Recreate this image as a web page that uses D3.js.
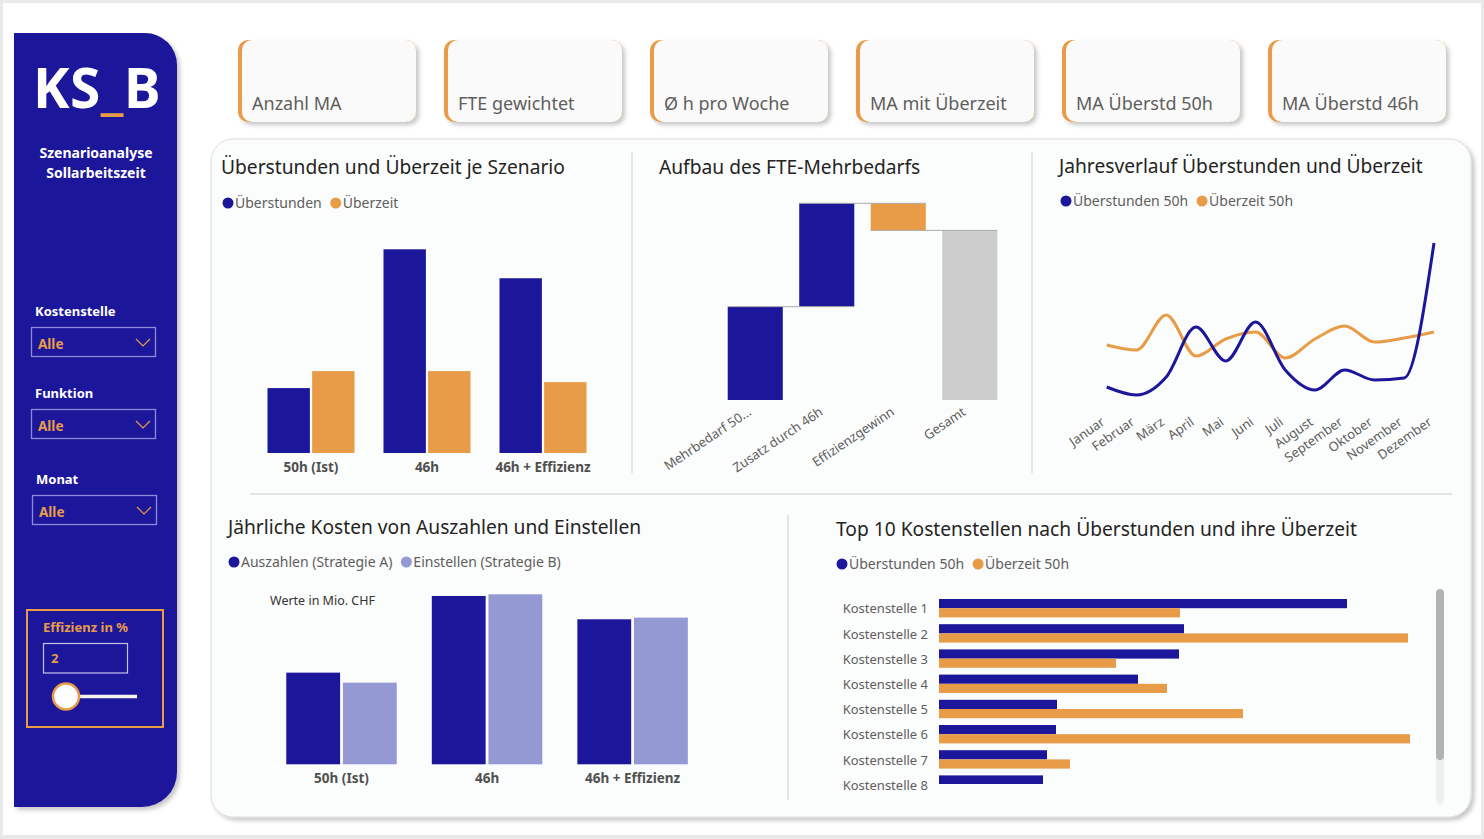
<!DOCTYPE html>
<html>
<head>
<meta charset="utf-8">
<script src="https://cdn.jsdelivr.net/npm/d3@7"></script>
<style>
  html, body { margin: 0; padding: 0; background: #fff; }
  svg { display: block; font-family: "Segoe UI", "Noto Sans", "Open Sans", sans-serif; }
</style>
</head>
<body>
<svg id="dash" width="1484" height="839"></svg>
<script>
// ---- data ----
const kpiLabels = ["Anzahl MA", "FTE gewichtet", "Ø h pro Woche", "MA mit Überzeit", "MA Überstd 50h", "MA Überstd 46h"];
const filterLabels = ["Kostenstelle", "Funktion", "Monat"];
const filterValues = ["Alle", "Alle", "Alle"];
const effizienzProzent = 2;

const szenarien = ["50h (Ist)", "46h", "46h + Effizienz"];
const ueberstundenSzenario = [65, 204, 175];
const ueberzeitSzenario = [82, 82, 71];

const wfSchritte = ["Mehrbedarf 50...", "Zusatz durch 46h", "Effizienzgewinn", "Gesamt"];
const wfWerte = [93, 103, -27];

const monate = ["Januar", "Februar", "März", "April", "Mai", "Juni", "Juli", "August", "September", "Oktober", "November", "Dezember"];
const ueberstundenMonat = [23, 15, 33, 83, 49, 88, 40, 20, 40, 30, 32, 167];
const ueberzeitMonat = [65, 60, 95, 54, 71, 78, 52, 71, 84, 68, 72, 78];

const kostenSzenario = ["50h (Ist)", "46h", "46h + Effizienz"];
const kostenAuszahlen = [5.5, 10.1, 8.7];
const kostenEinstellen = [4.9, 10.2, 8.8];

const kostenstellen = ["Kostenstelle 1", "Kostenstelle 2", "Kostenstelle 3", "Kostenstelle 4",
  "Kostenstelle 5", "Kostenstelle 6", "Kostenstelle 7", "Kostenstelle 8"];
const ueberstundenKst = [408, 245, 240, 199, 118, 117, 108, 104];
const ueberzeitKst = [241, 469, 177, 228, 304, 471, 131, 150];

// ---- style ----
const BLUE = "#1B169A";
const ORANGE = "#E89C48";
const LILA = "#9499D3";
const GREY = "#CCCCCC";
const TITLE = "#252423";
const SUB = "#605E5C";

const svg = d3.select("#dash");

const defs = svg.append("defs");
const shadow = defs.append("filter").attr("id", "shadow")
  .attr("x", "-10%").attr("y", "-10%").attr("width", "130%").attr("height", "130%");
shadow.append("feDropShadow").attr("dx", 3).attr("dy", 3).attr("stdDeviation", 2)
  .attr("flood-color", "#000").attr("flood-opacity", 0.22);
// only the rows that fit in the visual are shown (rest behind scrollbar)
defs.append("clipPath").attr("id", "kstClip")
  .append("rect").attr("x", 830).attr("y", 585).attr("width", 600).attr("height", 199);

// page
svg.append("rect").attr("width", 1484).attr("height", 839).attr("fill", "#e9e9e9");
svg.append("rect").attr("x", 3).attr("y", 3).attr("width", 1478).attr("height", 832).attr("fill", "#fff");

// ---- sidebar ----
svg.append("path")
  .attr("d", "M14,33 H145 A32,32 0 0 1 177,65 V772 A35,35 0 0 1 142,807 H14 Z")
  .attr("fill", BLUE)
  .attr("filter", "url(#shadow)");

const logo = svg.append("text").attr("x", 33).attr("y", 108)
  .attr("font-size", 55).attr("font-weight", 700).attr("fill", "#fff")
  .attr("letter-spacing", 0.5);
logo.append("tspan").text("KS");
logo.append("tspan").attr("fill", ORANGE).text("_");
logo.append("tspan").text("B");

svg.selectAll(".subtitle")
  .data(["Szenarioanalyse", "Sollarbeitszeit"])
  .join("text")
  .attr("x", 96).attr("y", (d, i) => 158 + i * 20)
  .attr("text-anchor", "middle")
  .attr("font-size", 14).attr("font-weight", 700).attr("fill", "#fff")
  .text(d => d);

const filterY = [311, 393, 479];
filterLabels.forEach((lab, i) => {
  const y = filterY[i];
  const x = i === 2 ? 32 : 31;
  svg.append("text").attr("x", x + 4).attr("y", y + 5)
    .attr("font-size", 13).attr("font-weight", 700).attr("fill", "#fff").text(lab);
  svg.append("rect").attr("x", x + 0.5).attr("y", y + 16.5).attr("width", 124).attr("height", 29)
    .attr("fill", "none").attr("stroke", "#8f8bd8").attr("stroke-width", 1.3);
  svg.append("text").attr("x", x + 7).attr("y", y + 38)
    .attr("font-size", 13.5).attr("font-weight", 700).attr("fill", ORANGE).text(filterValues[i]);
  svg.append("polyline")
    .attr("points", `${x + 105},${y + 28} ${x + 112},${y + 35} ${x + 119},${y + 28}`)
    .attr("fill", "none").attr("stroke", ORANGE).attr("stroke-width", 1.2);
});

// Effizienz slicer
svg.append("rect").attr("x", 27).attr("y", 610).attr("width", 136).attr("height", 117)
  .attr("fill", "none").attr("stroke", ORANGE).attr("stroke-width", 2);
svg.append("text").attr("x", 43).attr("y", 632)
  .attr("font-size", 13).attr("font-weight", 700).attr("fill", ORANGE).text("Effizienz in %");
svg.append("rect").attr("x", 43.5).attr("y", 643.5).attr("width", 84).attr("height", 29.5)
  .attr("fill", "none").attr("stroke", "#c4c1ee").attr("stroke-width", 1.2);
svg.append("text").attr("x", 51).attr("y", 663)
  .attr("font-size", 13).attr("font-weight", 700).attr("fill", ORANGE).text(effizienzProzent);
svg.append("line").attr("x1", 66).attr("x2", 137).attr("y1", 696.5).attr("y2", 696.5)
  .attr("stroke", "#f4f4f4").attr("stroke-width", 3.5);
svg.append("circle").attr("cx", 66).attr("cy", 696.5).attr("r", 13)
  .attr("fill", "#fff").attr("stroke", ORANGE).attr("stroke-width", 2.5);

// ---- KPI cards ----
const cards = svg.selectAll(".card")
  .data(kpiLabels)
  .join("g")
  .attr("class", "card")
  .attr("transform", (d, i) => `translate(${238 + i * 206},40)`);
cards.append("rect").attr("width", 178).attr("height", 82).attr("rx", 10)
  .attr("fill", ORANGE).attr("filter", "url(#shadow)");
cards.append("rect").attr("x", 4).attr("width", 174).attr("height", 82).attr("rx", 10)
  .attr("fill", "#fafafa");
cards.append("text").attr("x", 14).attr("y", 70)
  .attr("font-size", 18).attr("fill", SUB).text(d => d);

// ---- main panel ----
svg.append("rect").attr("x", 211).attr("y", 139).attr("width", 1260).attr("height", 678)
  .attr("rx", 22).attr("fill", "#fbfcfc").attr("stroke", "#dcdcdc")
  .attr("filter", "url(#shadow)");

const dividers = [
  [632, 152, 632, 473], [1032, 152, 1032, 473], [250, 494, 1452, 494], [788, 515, 788, 800]
];
svg.selectAll(".divider").data(dividers).join("line")
  .attr("x1", d => d[0]).attr("y1", d => d[1]).attr("x2", d => d[2]).attr("y2", d => d[3])
  .attr("stroke", "#e4e4e4").attr("stroke-width", 2);

function title(x, y, txt) {
  svg.append("text").attr("x", x).attr("y", y)
    .attr("font-size", 19.2).attr("fill", TITLE).text(txt);
}

function legend(x, y, items) {
  let cx = x;
  items.forEach(it => {
    svg.append("circle").attr("cx", cx).attr("cy", y).attr("r", 5.5).attr("fill", it.color);
    const t = svg.append("text").attr("x", cx + 7).attr("y", y + 5)
      .attr("font-size", 14).attr("fill", SUB).text(it.label);
    cx += 7 + t.node().getComputedTextLength() + 14;
  });
}

function categoryAxis(g, scale, fill) {
  g.call(d3.axisBottom(scale).tickSize(0).tickPadding(9))
    .call(a => a.select(".domain").remove())
    .selectAll("text")
    .attr("font-size", 13.5).attr("font-weight", 700).attr("fill", fill)
    .attr("font-family", "Segoe UI, Noto Sans, sans-serif");
}

// ---- chart 1: Überstunden und Überzeit je Szenario ----
title(221, 174, "Überstunden und Überzeit je Szenario");
legend(228, 203, [{ label: "Überstunden", color: BLUE }, { label: "Überzeit", color: ORANGE }]);

const x0a = d3.scaleBand().domain(szenarien).range([253, 601]).paddingInner(0.25).paddingOuter(0.125);
const x1a = d3.scaleBand().domain([0, 1]).range([0, x0a.bandwidth()]).paddingInner(0.05);
const ya = d3.scaleLinear().domain([0, 204]).range([453, 249.3]);

const groupsA = svg.selectAll(".grpA")
  .data(szenarien.map((s, i) => ({ s, vals: [ueberstundenSzenario[i], ueberzeitSzenario[i]] })))
  .join("g")
  .attr("transform", d => `translate(${x0a(d.s)},0)`);
groupsA.selectAll("rect")
  .data(d => d.vals)
  .join("rect")
  .attr("x", (d, i) => x1a(i))
  .attr("width", x1a.bandwidth())
  .attr("y", d => ya(d))
  .attr("height", d => ya(0) - ya(d))
  .attr("fill", (d, i) => (i === 0 ? BLUE : ORANGE));

svg.append("g").attr("transform", "translate(0,453)")
  .call(g => categoryAxis(g, x0a, "#505050"));

// ---- chart 2: Waterfall ----
title(659, 174, "Aufbau des FTE-Mehrbedarfs");

let cum = 0;
const wfData = wfSchritte.map((s, i) => {
  if (i < wfWerte.length) {
    const start = cum;
    cum += wfWerte[i];
    return { s, start, end: cum, type: wfWerte[i] >= 0 ? "up" : "down" };
  }
  return { s, start: 0, end: cum, type: "total" };
});

const xw = d3.scaleBand().domain(wfSchritte).range([719.5, 1005.5]).paddingInner(0.23).paddingOuter(0.115);
const yw = d3.scaleLinear().domain([0, 196]).range([400, 203.3]);
const wfColor = { up: BLUE, down: ORANGE, total: GREY };

svg.selectAll(".wfBar").data(wfData).join("rect")
  .attr("x", d => xw(d.s))
  .attr("width", xw.bandwidth())
  .attr("y", d => yw(Math.max(d.start, d.end)))
  .attr("height", d => Math.abs(yw(d.start) - yw(d.end)))
  .attr("fill", d => wfColor[d.type]);

svg.selectAll(".wfConn").data(wfData.slice(0, -1)).join("line")
  .attr("x1", d => xw(d.s))
  .attr("x2", (d, i) => xw(wfData[i + 1].s) + xw.bandwidth())
  .attr("y1", d => yw(d.end)).attr("y2", d => yw(d.end))
  .attr("stroke", "#aaa").attr("stroke-width", 1);

svg.selectAll(".wfLab").data(wfSchritte).join("text")
  .attr("transform", d => `translate(${xw(d) + xw.bandwidth() / 2 - 3},414) rotate(-34)`)
  .attr("text-anchor", "end")
  .attr("font-size", 13).attr("fill", SUB)
  .text(d => d);

// ---- chart 3: Jahresverlauf ----
title(1059, 173, "Jahresverlauf Überstunden und Überzeit");
legend(1066, 201, [{ label: "Überstunden 50h", color: BLUE }, { label: "Überzeit 50h", color: ORANGE }]);

const xl = d3.scalePoint().domain(monate).range([1106.7, 1434]);
const yl = d3.scaleLinear().domain([0, 170]).range([410, 240]);
const lineGen = (vals) => d3.line()
  .x((d, i) => xl(monate[i]))
  .y(d => yl(d))
  .curve(d3.curveMonotoneX)(vals);

svg.append("path").attr("d", lineGen(ueberzeitMonat))
  .attr("fill", "none").attr("stroke", ORANGE).attr("stroke-width", 3);
svg.append("path").attr("d", lineGen(ueberstundenMonat))
  .attr("fill", "none").attr("stroke", BLUE).attr("stroke-width", 3);

svg.selectAll(".mLab").data(monate).join("text")
  .attr("transform", d => `translate(${xl(d) - 1},424) rotate(-35)`)
  .attr("text-anchor", "end")
  .attr("font-size", 13).attr("fill", SUB)
  .text(d => d);

// ---- chart 4: Jährliche Kosten ----
title(228, 534, "Jährliche Kosten von Auszahlen und Einstellen");
legend(234, 562, [{ label: "Auszahlen (Strategie A)", color: BLUE }, { label: "Einstellen (Strategie B)", color: LILA }]);
svg.append("text").attr("x", 270).attr("y", 605)
  .attr("font-size", 12.5).attr("fill", "#333").text("Werte in Mio. CHF");

const x0k = d3.scaleBand().domain(kostenSzenario).range([268.8, 705.3]).paddingInner(0.241).paddingOuter(0.12);
const x1k = d3.scaleBand().domain([0, 1]).range([0, x0k.bandwidth()]).paddingInner(0.05);
const yk = d3.scaleLinear().domain([0, 10.2]).range([764.3, 594.3]);

const groupsK = svg.selectAll(".grpK")
  .data(kostenSzenario.map((s, i) => ({ s, vals: [kostenAuszahlen[i], kostenEinstellen[i]] })))
  .join("g")
  .attr("transform", d => `translate(${x0k(d.s)},0)`);
groupsK.selectAll("rect")
  .data(d => d.vals)
  .join("rect")
  .attr("x", (d, i) => x1k(i))
  .attr("width", x1k.bandwidth())
  .attr("y", d => yk(d))
  .attr("height", d => yk(0) - yk(d))
  .attr("fill", (d, i) => (i === 0 ? BLUE : LILA));

svg.append("g").attr("transform", "translate(0,764.3)")
  .call(g => categoryAxis(g, x0k, "#505050"));

// ---- chart 5: Top 10 Kostenstellen ----
title(836, 536, "Top 10 Kostenstellen nach Überstunden und ihre Überzeit");
legend(842, 564, [{ label: "Überstunden 50h", color: BLUE }, { label: "Überzeit 50h", color: ORANGE }]);

const y0h = d3.scaleBand().domain(kostenstellen).range([595.6, 797.2]).paddingInner(0.27).paddingOuter(0.135);
const y1h = d3.scaleBand().domain([0, 1]).range([0, y0h.bandwidth()]);
const xh = d3.scaleLinear().domain([0, 480]).range([939, 1419]);

const groupsH = svg.append("g").attr("clip-path", "url(#kstClip)")
  .selectAll(".grpH")
  .data(kostenstellen.map((k, i) => ({ k, vals: [ueberstundenKst[i], ueberzeitKst[i]] })))
  .join("g")
  .attr("transform", d => `translate(0,${y0h(d.k)})`);
groupsH.selectAll("rect")
  .data(d => d.vals)
  .join("rect")
  .attr("x", xh(0))
  .attr("y", (d, i) => y1h(i))
  .attr("height", y1h.bandwidth())
  .attr("width", d => xh(d) - xh(0))
  .attr("fill", (d, i) => (i === 0 ? BLUE : ORANGE));

svg.append("g").attr("transform", "translate(934,1)")
  .call(d3.axisLeft(y0h).tickSize(0).tickPadding(6))
  .call(g => g.select(".domain").remove())
  .selectAll("text")
  .attr("font-size", 13).attr("fill", SUB)
  .attr("font-family", "Segoe UI, Noto Sans, sans-serif");

// scrollbar
svg.append("rect").attr("x", 1436).attr("y", 589).attr("width", 8).attr("height", 215)
  .attr("rx", 4).attr("fill", "#efefef");
svg.append("rect").attr("x", 1436).attr("y", 589).attr("width", 8).attr("height", 171)
  .attr("rx", 4).attr("fill", "#b3b3b3");
</script>
</body>
</html>
